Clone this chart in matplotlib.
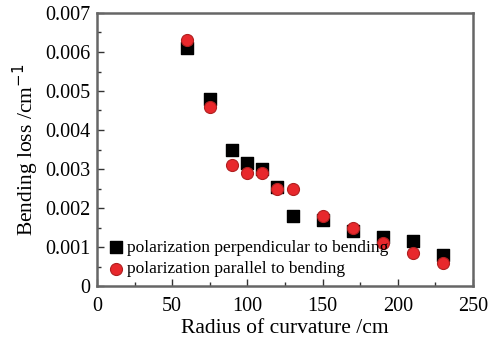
import matplotlib
matplotlib.use("Agg")
import matplotlib.pyplot as plt
from matplotlib.ticker import MultipleLocator

radius = [60, 75, 90, 100, 110, 120, 130, 150, 170, 190, 210, 230]
perp = [0.0061, 0.0048, 0.0035, 0.00315, 0.0030, 0.00255, 0.0018, 0.0017, 0.0014, 0.00125, 0.00115, 0.0008]
para = [0.0063, 0.0046, 0.0031, 0.0029, 0.0029, 0.0025, 0.00248, 0.0018, 0.0015, 0.0011, 0.00085, 0.0006]
xticks = [0, 50, 100, 150, 200, 250]
yticks = [0, 0.001, 0.002, 0.003, 0.004, 0.005, 0.006, 0.007]
ytick_labels = ["0", "0.001", "0.002", "0.003", "0.004", "0.005", "0.006", "0.007"]

plt.rcParams['font.family'] = ['Liberation Serif', 'DejaVu Serif']
fig = plt.figure(figsize=(5.03, 3.40), dpi=100)
ax = fig.add_axes([97/503, 1 - 286/340, (473 - 97)/503, (286 - 13)/340])

ax.scatter(radius, perp, marker='s', s=70, color='black', zorder=3,
           label='polarization perpendicular to bending')
ax.scatter(radius, para, marker='o', s=75, color='#e8282c', edgecolor='#b02020',
           linewidth=0.8, zorder=4, label='polarization parallel to bending')

ax.set_xlim(0, 250)
ax.set_ylim(0, 0.007)
ax.set_xticks(xticks)
ax.set_yticks(yticks)
ax.set_yticklabels(ytick_labels)
ax.xaxis.set_minor_locator(MultipleLocator(25))
ax.yaxis.set_minor_locator(MultipleLocator(0.0005))
ax.tick_params(which='both', direction='in', labelsize=14.5, colors='#333333',
               labelcolor='black', top=False, right=False)
ax.tick_params(which='major', length=5, width=1)
ax.tick_params(which='minor', length=3, width=1)
ax.tick_params(axis='x', which='major', pad=8)
ax.tick_params(axis='y', which='major', pad=5)
for s in ax.spines.values():
    s.set_color('#666666')
    s.set_linewidth(1.8)

ax.set_xlabel('Radius of curvature /cm', fontsize=15.5, labelpad=2)
ax.set_ylabel('Bending loss /cm$^{-1}$', fontsize=15.5, labelpad=3)

leg = ax.legend(loc='lower left', frameon=False, fontsize=12.5, handletextpad=0.0,
                borderaxespad=0.1, labelspacing=0.3, handlelength=1.2,
                bbox_to_anchor=(0.0, 0.0))

fig.savefig('out.png', dpi=100, facecolor='white')
